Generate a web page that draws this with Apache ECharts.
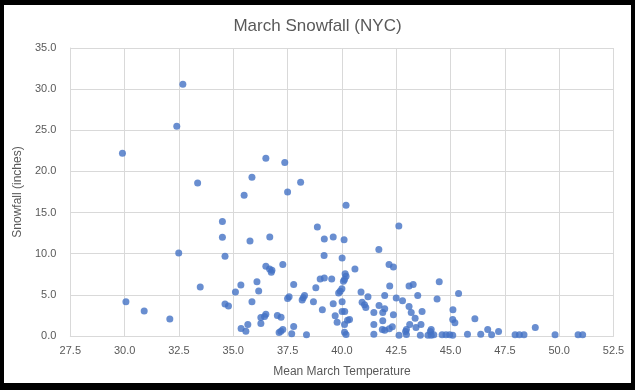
<!DOCTYPE html>
<html>
<head>
<meta charset="utf-8">
<script src="https://cdn.jsdelivr.net/npm/echarts@6/dist/echarts.min.js"></script>
<style>
html,body{margin:0;padding:0;background:#000;width:635px;height:390px;overflow:hidden;}
#chart{position:absolute;left:4px;top:5px;width:627px;height:378px;background:#fff;}
</style>
</head>
<body>
<div id="chart"></div>
<script>
const titleText = "March Snowfall (NYC)";
const xAxisName = "Mean March Temperature";
const yAxisName = "Snowfall (inches)";
const temperature = [
32.68,32.4,29.9,33.36,35.5,34.5,34.5,32.49,34.62,33.48,35.35,35.1,30.06,34.62,34.78,30.9,32.08,35.36,
36.5,37.37,35.86,38.1,37.5,40.19,38.87,35.77,36.68,39.19,39.6,40.1,42.62,41.7,39.18,40.01,
36.5,36.67,36.78,36.75,37.28,40.6,36.09,37.78,39.0,39.19,39.53,40.15,40.19,40.12,40.07,
36.17,38.8,40.0,39.92,39.85,40.88,35.86,37.57,37.5,38.28,38.22,38.17,38.69,39.6,40.01,40.93,
39.1,40.01,40.13,39.69,36.5,36.27,36.44,37.03,37.2,40.35,40.26,39.78,36.27,37.78,35.67,35.58,
37.28,37.11,37.19,40.12,40.12,40.19,37.69,38.37,
42.17,42.37,44.48,42.2,43.09,43.28,41.2,41.97,45.37,42.5,42.79,43.49,44.38,41.04,41.1,41.71,
41.97,43.09,41.47,41.88,43.19,43.69,45.11,42.37,43.37,45.1,45.2,46.12,41.88,41.47,43.12,43.64,
42.32,42.18,41.97,41.86,43.41,42.97,42.93,44.11,44.07,41.47,42.63,42.97,43.61,43.96,44.11,44.23,
44.61,44.79,44.96,45.1,45.78,46.39,46.71,46.89,47.21,47.97,48.17,48.38,48.9,49.81,50.87,51.08
];
const snowfall = [
30.6,25.5,22.2,18.6,17.1,13.9,12.0,10.1,9.7,5.95,6.2,5.36,4.15,3.9,3.64,3.05,2.08,0.9,
21.6,21.1,19.3,18.7,17.5,15.9,13.25,11.55,12.04,11.8,12.04,11.7,13.37,10.5,9.77,9.49,
8.47,8.15,7.99,7.74,8.68,8.15,6.58,6.25,6.94,7.06,6.94,7.58,7.26,6.86,6.65,
5.48,5.85,5.73,5.44,5.24,5.36,4.15,4.76,4.55,4.92,4.64,4.39,4.15,3.91,4.15,4.1,
3.18,2.97,2.97,2.45,2.65,2.25,2.37,2.49,2.28,2.0,1.92,1.68,1.52,1.15,1.4,0.58,
0.79,0.42,0.58,1.4,0.46,0.18,0.27,0.15,
8.68,8.4,6.58,6.09,6.09,6.25,4.76,4.92,5.16,4.63,4.27,4.92,4.51,3.79,3.46,3.7,
3.3,3.58,2.85,2.85,2.85,2.97,3.18,2.57,2.16,2.0,1.6,2.09,1.84,1.4,1.4,1.4,
1.11,0.87,0.7,0.79,1.03,0.79,0.55,0.79,0.55,0.22,0.1,0.18,0.1,0.1,0.1,0.15,
0.15,0.15,0.15,0.1,0.22,0.22,0.79,0.15,0.55,0.15,0.15,0.15,1.03,0.15,0.15,0.15
];
const points = temperature.map((t, i) => [t, snowfall[i]]);

const chart = echarts.init(document.getElementById('chart'), null, {renderer: 'canvas'});
const txt = '#595959';
const grid = '#d9d9d9';
chart.setOption({
  animation: false,
  backgroundColor: '#ffffff',
  title: {
    text: titleText, left: 'center', top: 8,
    textStyle: {fontFamily: 'Liberation Sans', fontSize: 17, fontWeight: 'normal', color: txt}
  },
  grid: {left: 60.7, right: 17.5, top: 43, bottom: 46.5, containLabel: false},
  xAxis: {
    type: 'value', min: 27.5, max: 52.5, interval: 2.5,
    name: xAxisName, nameLocation: 'middle', nameGap: 30,
    nameTextStyle: {fontFamily: 'Liberation Sans', fontSize: 12, color: txt},
    axisLine: {show: true, lineStyle: {color: grid}},
    axisTick: {show: false},
    axisLabel: {formatter: v => v.toFixed(1), color: txt, fontFamily: 'Liberation Sans', fontSize: 11, margin: 9},
    splitLine: {show: true, lineStyle: {color: grid}}
  },
  yAxis: {
    type: 'value', min: 0, max: 35, interval: 5,
    name: yAxisName, nameLocation: 'middle', nameGap: 36,
    nameTextStyle: {fontFamily: 'Liberation Sans', fontSize: 12, color: txt},
    axisLine: {show: true, lineStyle: {color: grid}},
    axisTick: {show: false},
    axisLabel: {formatter: v => v.toFixed(1), color: txt, fontFamily: 'Liberation Sans', fontSize: 11, margin: 14},
    splitLine: {show: true, lineStyle: {color: grid}}
  },
  series: [{
    type: 'scatter',
    data: points,
    symbol: 'circle',
    symbolSize: 7,
    itemStyle: {color: '#4472C4'}
  }]
});
</script>
</body>
</html>
